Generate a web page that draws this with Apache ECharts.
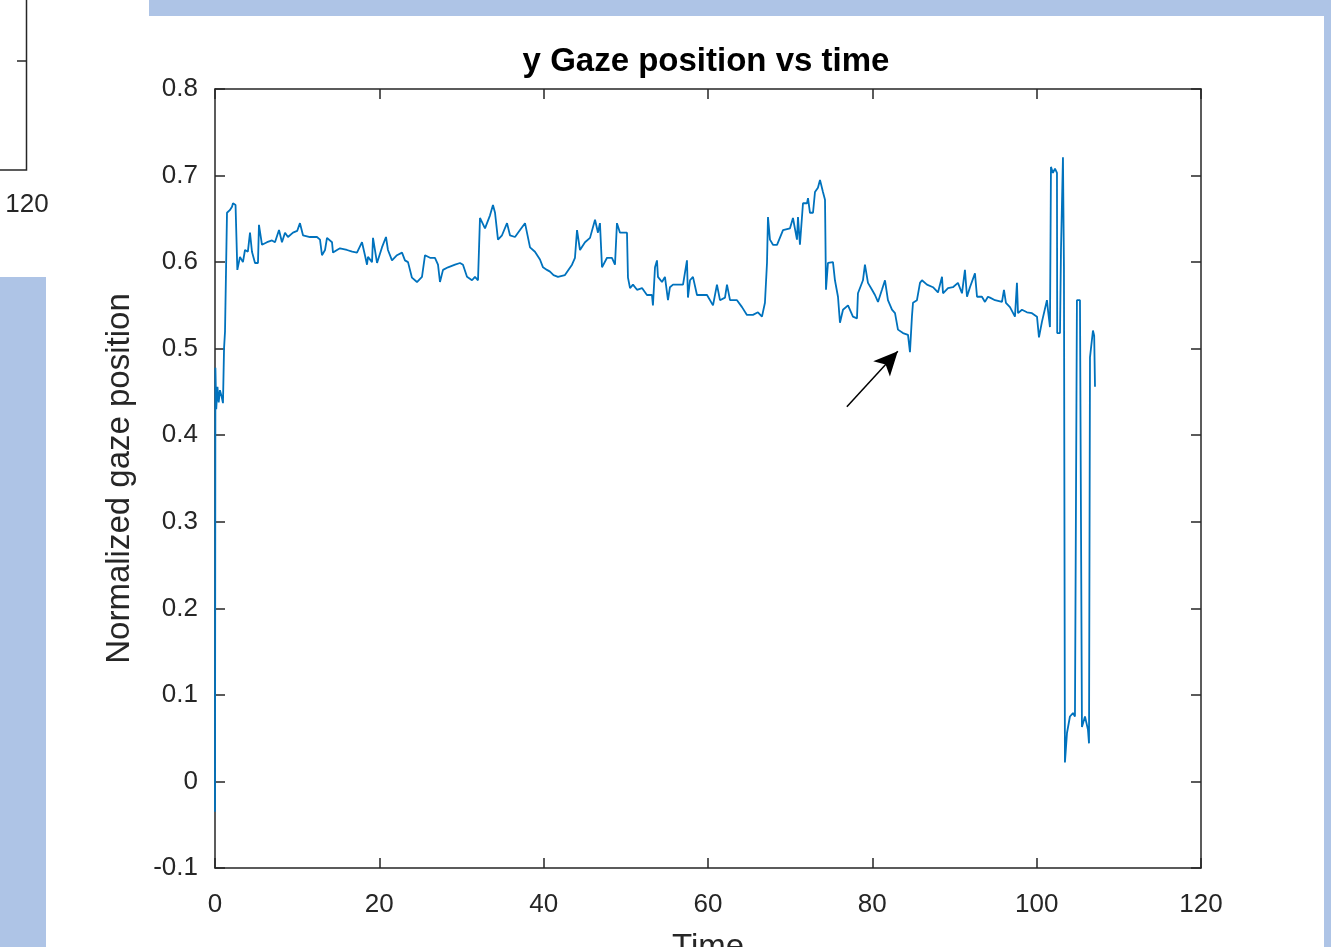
<!DOCTYPE html>
<html><head><meta charset="utf-8">
<script src="https://cdn.jsdelivr.net/npm/echarts@6/dist/echarts.min.js"></script>
<style>html,body{margin:0;padding:0;background:#fff;overflow:hidden}#c{width:1331px;height:947px}</style>
</head><body><div id="c"></div>
<script>
const titleText = 'y Gaze position vs time';
const xName = 'Time';
const yName = 'Normalized gaze position';
const xMin = 0, xMax = 120, xStep = 20;
const yMin = -0.1, yMax = 0.8, yStep = 0.1;

const times = [
  0, 0.05, 0.15, 0.3, 0.45, 0.6, 0.8, 0.97, 1.1, 1.22, 1.46, 1.8, 2.07, 2.19, 2.5, 2.68, 2.72,
  3.04, 3.4, 3.65, 4.0, 4.26, 4.5, 4.87, 5.23, 5.35, 5.72, 6.33, 6.94, 7.3, 7.79, 8.15, 8.52,
  8.88, 9.49, 10.0, 10.34, 10.71, 11.56, 12.41, 12.78, 13.02, 13.39, 13.63, 14.24, 14.36, 14.85,
  15.21, 16.06, 16.7, 17.28, 17.89, 18.25, 18.5, 18.62, 19.11, 19.23, 19.72, 20.32, 20.81, 21.05,
  21.54, 22.15, 22.76, 23.12, 23.49, 23.97, 24.58, 25.19, 25.56, 26.17, 26.77, 27.14, 27.38,
  27.75, 28.36, 29.21, 29.82, 30.18, 30.67, 31.28, 31.64, 32.01, 32.25, 32.86, 33.47, 33.83,
  34.08, 34.44, 34.93, 35.54, 35.9, 36.51, 37.12, 37.73, 38.34, 38.94, 39.55, 39.92, 40.4, 40.77,
  41.2, 41.74, 42.59, 43.45, 43.81, 44.06, 44.42, 45.03, 45.64, 46.25, 46.61, 46.85, 47.1, 47.71,
  48.31, 48.68, 48.92, 49.29, 50.14, 50.26, 50.51, 50.87, 51.36, 51.97, 52.57, 53.18, 53.3,
  53.55, 53.79, 53.91, 54.4, 54.76, 55.13, 55.37, 55.74, 56.96, 57.44, 57.56, 57.81, 58.17,
  58.66, 59.02, 59.88, 60.61, 61.09, 61.46, 62.07, 62.31, 62.68, 63.53, 64.14, 64.74, 65.47,
  66.08, 66.57, 66.93, 67.18, 67.3, 67.54, 67.91, 68.4, 69.13, 69.98, 70.34, 70.83, 70.95, 71.19,
  71.56, 72.05, 72.17, 72.41, 72.78, 73.02, 73.38, 73.63, 73.99, 74.24, 74.36, 74.6, 75.21,
  75.45, 75.82, 76.06, 76.43, 77.04, 77.64, 78.13, 78.25, 78.86, 79.1, 79.47, 79.96, 80.32,
  80.69, 81.17, 81.54, 81.9, 82.39, 82.76, 83.12, 83.73, 84.34, 84.58, 84.82, 84.95, 85.43,
  85.8, 86.04, 86.65, 87.38, 87.99, 88.48, 88.6, 89.21, 89.81, 90.42, 90.91, 91.27, 91.52,
  91.88, 92.49, 92.74, 93.34, 93.71, 94.07, 94.32, 94.93, 95.78, 96.02, 96.26, 96.75, 97.36,
  97.6, 97.73, 98.21, 98.82, 99.43, 100.04, 100.28, 100.64, 100.77, 101.25, 101.37, 101.62,
  101.74, 101.98, 102.23, 102.47, 102.5, 102.84, 102.96, 103.2, 103.32, 103.44, 103.69, 104.05,
  104.42, 104.66, 104.9, 105.27, 105.51, 105.88, 106.24, 106.37, 106.49, 106.85, 107.0, 107.1
];
const values = [
  -0.035, 0.478, 0.43, 0.456, 0.438, 0.452, 0.445, 0.437, 0.5, 0.52, 0.657, 0.66, 0.664, 0.668, 0.666, 0.664, 0.591,
  0.606, 0.6, 0.614, 0.612, 0.634, 0.612, 0.599, 0.599, 0.643, 0.62, 0.623, 0.625, 0.623, 0.637, 0.623, 0.634,
  0.629, 0.634, 0.636, 0.645, 0.631, 0.629, 0.629, 0.626, 0.608, 0.614, 0.628, 0.623, 0.611, 0.614,
  0.616, 0.614, 0.612, 0.611, 0.623, 0.608, 0.597, 0.606, 0.6, 0.628, 0.599, 0.617, 0.629, 0.614,
  0.602, 0.608, 0.611, 0.602, 0.6, 0.582, 0.577, 0.583, 0.608, 0.605, 0.605, 0.597, 0.577,
  0.591, 0.594, 0.597, 0.599, 0.597, 0.583, 0.579, 0.583, 0.579, 0.651, 0.639, 0.654, 0.666,
  0.657, 0.626, 0.631, 0.645, 0.631, 0.629, 0.637, 0.645, 0.617, 0.612, 0.603, 0.594, 0.591, 0.589,
  0.585, 0.583, 0.585, 0.597, 0.605, 0.637, 0.614, 0.623, 0.628, 0.649, 0.634, 0.645, 0.594, 0.605,
  0.605, 0.597, 0.645, 0.634, 0.634, 0.582, 0.57, 0.574, 0.568, 0.57, 0.562, 0.562, 0.55,
  0.594, 0.602, 0.583, 0.577, 0.583, 0.556, 0.571, 0.574, 0.574, 0.602, 0.559, 0.579, 0.583,
  0.562, 0.562, 0.562, 0.55, 0.574, 0.556, 0.559, 0.574, 0.556, 0.556, 0.548, 0.539, 0.539,
  0.542, 0.537, 0.553, 0.599, 0.652, 0.626, 0.62, 0.62, 0.637, 0.639, 0.651, 0.626, 0.652, 0.62,
  0.668, 0.668, 0.674, 0.657, 0.657, 0.681, 0.686, 0.695, 0.681, 0.672, 0.568, 0.599, 0.6,
  0.579, 0.56, 0.53, 0.545, 0.55, 0.537, 0.535, 0.564, 0.579, 0.597, 0.576, 0.568, 0.562,
  0.554, 0.568, 0.579, 0.556, 0.545, 0.541, 0.522, 0.518, 0.516, 0.496, 0.537, 0.553, 0.556,
  0.576, 0.579, 0.574, 0.571, 0.565, 0.583, 0.564, 0.57, 0.571, 0.576, 0.564, 0.591, 0.56,
  0.571, 0.587, 0.56, 0.56, 0.554, 0.56, 0.559, 0.556, 0.554, 0.568, 0.553, 0.548, 0.537,
  0.576, 0.541, 0.545, 0.542, 0.541, 0.537, 0.513, 0.531, 0.531, 0.556, 0.545, 0.525,
  0.71, 0.703, 0.708, 0.703, 0.518, 0.518, 0.614, 0.721, 0.594, 0.022, 0.056, 0.075,
  0.079, 0.075, 0.556, 0.556, 0.063, 0.075, 0.06, 0.044, 0.49, 0.521, 0.515, 0.456
];
// annotation arrow (data units): tail and tip
const arrowTail = [76.9, 0.433];
const arrowHead = [83.1, 0.497];

const AX = '#262626';
const FONT = '"Liberation Sans", Arial, Helvetica, sans-serif';
const BG = '#aec4e6';

const chart = echarts.init(document.getElementById('c'), null, {renderer: 'canvas'});
const axisCommon = {
  axisLine: {show: true, onZero: false, lineStyle: {color: AX, width: 1.5}},
  axisTick: {show: true, inside: true, length: 10, lineStyle: {color: AX, width: 1.5}},
  splitLine: {show: false}
};
const option = {
  animation: false,
  backgroundColor: '#ffffff',
  grid: {left: 215, top: 89, width: 986, height: 779, containLabel: false, outerBoundsMode: 'none'},
  xAxis: [
    Object.assign({type: 'value', min: xMin, max: xMax, interval: xStep, position: 'bottom',
      name: xName, nameLocation: 'middle', nameGap: 63,
      nameTextStyle: {fontFamily: FONT, fontSize: 33, color: AX},
      axisLabel: {fontFamily: FONT, fontSize: 26, color: AX, margin: 24}}, axisCommon),
    Object.assign({type: 'value', min: xMin, max: xMax, interval: xStep, position: 'top',
      axisLabel: {show: false}}, axisCommon)
  ],
  yAxis: [
    Object.assign({type: 'value', min: yMin, max: yMax, interval: yStep, position: 'left',
      name: yName, nameLocation: 'middle', nameGap: 79, nameRotate: 90,
      nameTextStyle: {fontFamily: FONT, fontSize: 33, color: AX},
      axisLabel: {fontFamily: FONT, fontSize: 26, color: AX, margin: 17,
        formatter: v => String(Math.round(v * 10) / 10)}}, axisCommon),
    Object.assign({type: 'value', min: yMin, max: yMax, interval: yStep, position: 'right',
      axisLabel: {show: false}}, axisCommon)
  ],
  series: [{
    type: 'line',
    xAxisIndex: 0, yAxisIndex: 0,
    data: times.map((t, i) => [t, values[i]]),
    showSymbol: false,
    symbol: 'none',
    lineStyle: {color: '#0072BD', width: 1.8},
    silent: true,
    markLine: {
      silent: true,
      animation: false,
      label: {show: false},
      lineStyle: {color: '#000000', width: 1.5, type: 'solid'},
      symbolSize: [17, 24],
      data: [[
        {coord: arrowTail, symbol: 'none'},
        {coord: arrowHead, symbol: 'arrow'}
      ]]
    }
  }],
  graphic: [
    {type: 'rect', z: -10, shape: {x: 149, y: 0, width: 1182, height: 16}, style: {fill: BG}},
    {type: 'rect', z: -10, shape: {x: 1324, y: 0, width: 7, height: 947}, style: {fill: BG}},
    {type: 'rect', z: -10, shape: {x: 0, y: 277, width: 46, height: 670}, style: {fill: BG}},
    {type: 'polyline', shape: {points: [[26.5, 0], [26.5, 170], [0, 170]]}, style: {stroke: AX, lineWidth: 1.5, fill: null}},
    {type: 'line', shape: {x1: 17, y1: 61, x2: 26.5, y2: 61}, style: {stroke: AX, lineWidth: 1.5}},
    {type: 'text', x: 27, y: 205, style: {text: '120', font: '26px ' + FONT, fill: AX, textAlign: 'center', textVerticalAlign: 'middle'}},
    {type: 'text', x: 706, y: 62, style: {text: titleText, font: 'bold 33px ' + FONT, fill: '#000000', textAlign: 'center', textVerticalAlign: 'middle'}}
  ]
};
chart.setOption(option);
</script>
</body></html>
